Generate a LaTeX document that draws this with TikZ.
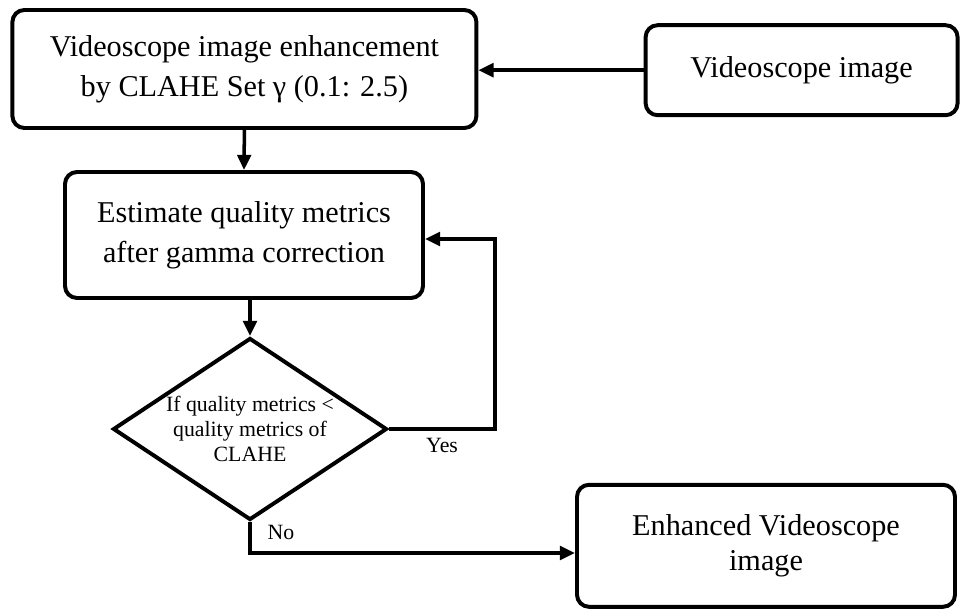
\documentclass[tikz,border=0pt]{standalone}
\usepackage{fontspec}
\setmainfont{Liberation Serif}
\usetikzlibrary{shapes.geometric,arrows.meta}
\pgfdeclarelayer{bg}
\pgfsetlayers{bg,main}
\tikzset{
    stepbox/.style={rectangle, draw, rounded corners=0.3cm, line width=2.8pt,
        align=center, font=\fontsize{21.5}{28.5}\selectfont},
    testbox/.style={diamond, draw, line width=2.8pt, shape aspect=1.5,
        inner sep=0pt, align=center, font=\fontsize{15.5}{17.5}\selectfont},
    flow/.style={line width=2.5pt, -{Triangle[length=3.8mm, width=3.4mm]}},
    answer/.style={font=\fontsize{15.5}{17.5}\selectfont}
}
\begin{document}
\begin{tikzpicture}
  \useasboundingbox (0cm, 0cm) rectangle (24cm, 15.275cm);

  \node (clahe) [stepbox, minimum width=11.6cm, minimum height=2.95cm]
    at (6.11cm, 13.55cm) {Videoscope image enhancement\\by CLAHE Set γ (0.1: 2.5)};
  \node (input) [stepbox, minimum width=7.8cm, minimum height=2.25cm]
    at (20.04cm, 13.52cm) {Videoscope image};
  \node (metric) [stepbox, minimum width=8.95cm, minimum height=3.15cm]
    at (6.1cm, 9.4cm) {Estimate quality metrics\\after gamma correction};
  \node (check) [testbox, minimum width=6.85cm, minimum height=4.55cm]
    at (6.25cm, 4.55cm) {If quality metrics <\\quality metrics of\\CLAHE};
  \node (output) [stepbox, minimum width=9.45cm, minimum height=3.05cm]
    at (19.15cm, 1.63cm) {Enhanced Videoscope\\[-3pt]image};

  \coordinate (yes) at (12.38cm, 4.55cm);
  \coordinate (no) at (6.25cm, 1.45cm);

  \begin{pgfonlayer}{bg}
	  \draw[flow] (input.west) -- (input.west -| clahe.east);
	  \draw[flow] (clahe.south) -- (metric.north);
	  \draw[flow] (check.north |- metric.south) -- (check.north);

	  \draw[flow] (check.east) -- node[answer, below=2pt] {Yes} (yes)
	    |- ([yshift=-1mm]metric.east);
	  \draw[flow] (check.south) -- node[answer, right=8pt, pos=0.35] {No} (no)
	    -- (no -| output.west);
  \end{pgfonlayer}

\end{tikzpicture}
\end{document}
